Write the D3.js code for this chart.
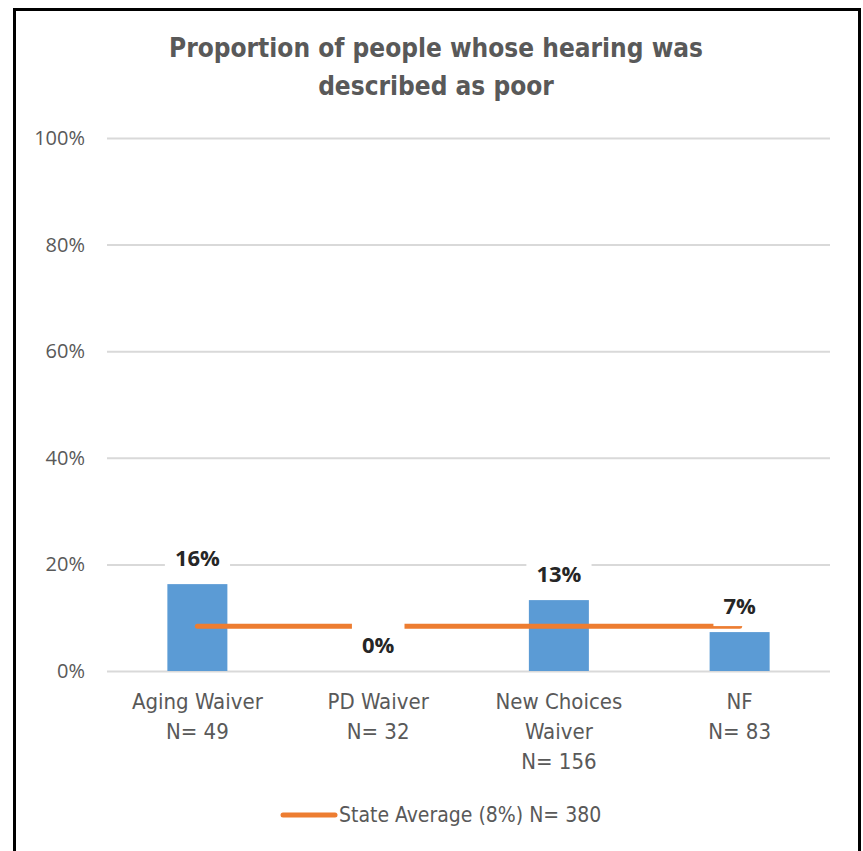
<!DOCTYPE html>
<html><head><meta charset="utf-8">
<script src="https://cdn.jsdelivr.net/npm/d3@7"></script>
<style>body{margin:0;background:#fff}svg{display:block}</style>
</head><body>
<svg id="c" width="863" height="851"></svg>
<script>
const categories = ["Aging Waiver|N= 49", "PD Waiver|N= 32", "New Choices|Waiver|N= 156", "NF|N= 83"];
const values = [0.163, 0.0, 0.133, 0.073];
const valueLabels = ["16%", "0%", "13%", "7%"];
const stateAverage = [0.084, 0.084, 0.084, 0.084];
const yTicks = [0, 0.2, 0.4, 0.6, 0.8, 1.0];
const titleLines = ["Proportion of people whose hearing was", "described as poor"];
const legendLabel = "State Average (8%) N= 380";

const svg = d3.select("#c");
const condensed = "'Liberation Sans Narrow', 'Arial Narrow', 'DejaVu Sans Condensed', sans-serif";

// border
svg.append("rect").attr("x", 14.5).attr("y", 9.5).attr("width", 845).attr("height", 860)
  .attr("fill", "#fff").attr("stroke", "#000").attr("stroke-width", 3);

const x = d3.scaleBand().domain(categories).range([107, 830]).padding(0);
const y = d3.scaleLinear().domain([0, 1]).range([671, 138]);
const barW = x.bandwidth() * 0.332;
const cx = d => x(d) + x.bandwidth() / 2;

// title
svg.append("g").selectAll("text").data(titleLines).join("text")
  .attr("x", 436).attr("y", (d, i) => 57 + i * 38)
  .attr("text-anchor", "middle").attr("fill", "#595959")
  .style("font-family", condensed).style("font-size", "26px").style("font-weight", "bold")
  .text(d => d);

// gridlines + y axis
const yAxis = d3.axisLeft(y).tickValues(yTicks).tickFormat(d3.format(".0%")).tickSize(-(830 - 107)).tickPadding(22);
const gy = svg.append("g").attr("transform", "translate(107,0)").call(yAxis);
gy.select(".domain").remove();
gy.selectAll(".tick line").attr("stroke", "#d9d9d9").attr("stroke-width", 2);
gy.selectAll(".tick text").attr("fill", "#595959").style("font-family", "'Open Sans', sans-serif").style("font-size", "20px");

// bars
svg.append("g").selectAll("rect").data(values).join("rect")
  .attr("x", (d, i) => cx(categories[i]) - barW / 2)
  .attr("y", d => y(d)).attr("width", barW).attr("height", d => y(0) - y(d))
  .attr("fill", "#5b9bd5");

// state average line
const line = d3.line().x((d, i) => cx(categories[i])).y(d => y(d));
svg.append("path").datum(stateAverage).attr("d", line)
  .attr("fill", "none").attr("stroke", "#ed7d31").attr("stroke-width", 5).attr("stroke-linecap", "round");

// data labels with white boxes
const lg = svg.append("g");
values.forEach((v, i) => {
  const tx = cx(categories[i]), ty = y(v) - 26;
  const g = lg.append("g");
  const t = g.append("text").attr("x", tx).attr("y", ty).attr("dy", "0.36em")
    .attr("text-anchor", "middle").attr("fill", "#262626")
    .style("font-family", "'Open Sans', sans-serif").style("font-size", "22px").style("font-weight", "bold")
    .text(valueLabels[i]);
  const bb = t.node().getBBox();
  g.insert("rect", "text").attr("x", bb.x - 10).attr("y", ty - 22).attr("width", bb.width + 20).attr("height", 42).attr("fill", "#fff");
});

// category labels
const cg = svg.append("g");
categories.forEach(c => {
  const lines = c.split("|");
  cg.append("text").attr("text-anchor", "middle").attr("fill", "#595959")
    .style("font-family", condensed).style("font-size", "22px")
    .selectAll("tspan").data(lines).join("tspan")
    .attr("x", cx(c)).attr("y", (d, i) => 709 + i * 30).text(d => d);
});

// legend
svg.append("line").attr("x1", 283).attr("x2", 335).attr("y1", 815).attr("y2", 815)
  .attr("stroke", "#ed7d31").attr("stroke-width", 5).attr("stroke-linecap", "round");
svg.append("text").attr("x", 339).attr("y", 822).attr("fill", "#595959")
  .style("font-family", condensed).style("font-size", "21px").text(legendLabel);
</script>
</body></html>
